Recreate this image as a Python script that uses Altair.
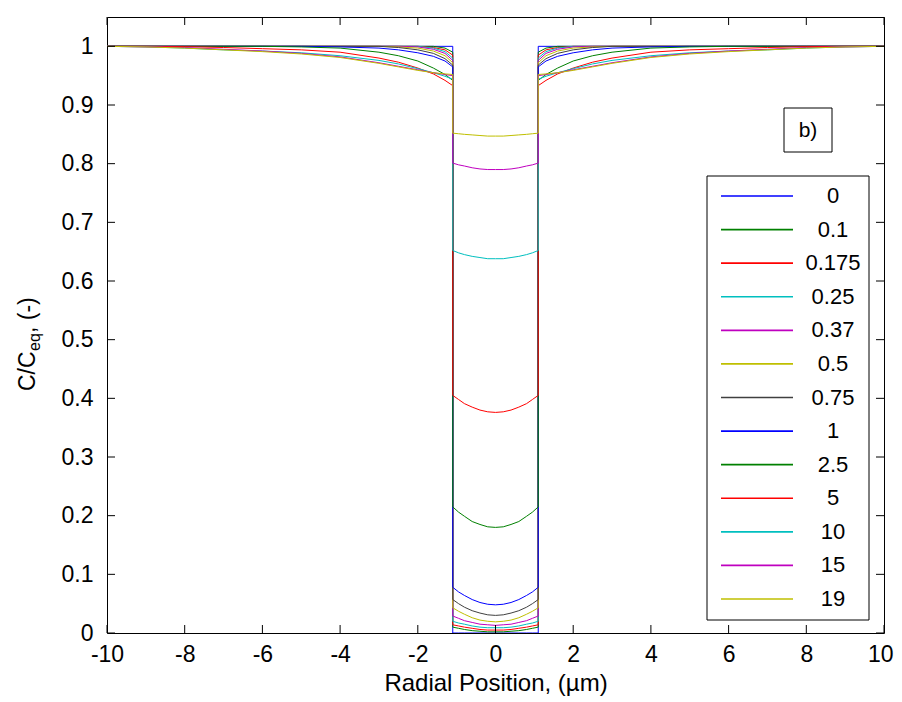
import altair as alt
import pandas as pd

FONT = "Liberation Sans"

# ---- series labels (times) and MATLAB colour cycle ----
labels = ["0", "0.1", "0.175", "0.25", "0.37", "0.5", "0.75", "1", "2.5", "5", "10", "15", "19"]
line_colors = ["#0000FF", "#008000", "#FF0000", "#00BFBF", "#BF00BF", "#BFBF00", "#404040",
               "#0000FF", "#008000", "#FF0000", "#00BFBF", "#BF00BF", "#BFBF00"]

# ---- radial positions (half profile, mirrored about 0) ----
x_inner = [0.0, 0.2, 0.4, 0.6, 0.8, 0.95, 1.1]
x_outer = [1.1, 1.3, 1.6, 2.0, 2.5, 3.0, 4.0, 5.0, 6.0, 7.0, 8.0, 9.0, 10.0]

# ---- C/Ceq inside the particle (at x_inner) ----
in_0 = [0.0, 0.0, 0.0, 0.0, 0.0, 0.0, 0.0]
in_01 = [0.002, 0.002, 0.003, 0.004, 0.006, 0.008, 0.010]
in_0175 = [0.005, 0.005, 0.006, 0.008, 0.010, 0.012, 0.014]
in_025 = [0.009, 0.009, 0.010, 0.012, 0.015, 0.017, 0.020]
in_037 = [0.013, 0.014, 0.015, 0.018, 0.021, 0.025, 0.029]
in_05 = [0.019, 0.020, 0.022, 0.026, 0.032, 0.037, 0.043]
in_075 = [0.030, 0.031, 0.034, 0.038, 0.044, 0.050, 0.057]
in_1 = [0.048, 0.049, 0.052, 0.057, 0.064, 0.070, 0.078]
in_25 = [0.180, 0.181, 0.185, 0.190, 0.199, 0.206, 0.215]
in_5 = [0.376, 0.377, 0.380, 0.385, 0.391, 0.398, 0.405]
in_10 = [0.638, 0.638, 0.640, 0.642, 0.645, 0.648, 0.652]
in_15 = [0.790, 0.790, 0.791, 0.793, 0.796, 0.798, 0.801]
in_19 = [0.847, 0.847, 0.848, 0.849, 0.850, 0.851, 0.852]

# ---- C/Ceq outside the particle (at x_outer) ----
out_0 = [1.0, 1.0, 1.0, 1.0, 1.0, 1.0, 1.0, 1.0, 1.0, 1.0, 1.0, 1.0, 1.0]
out_01 = [0.990, 0.997, 1.0, 1.0, 1.0, 1.0, 1.0, 1.0, 1.0, 1.0, 1.0, 1.0, 1.0]
out_0175 = [0.985, 0.994, 0.998, 1.0, 1.0, 1.0, 1.0, 1.0, 1.0, 1.0, 1.0, 1.0, 1.0]
out_025 = [0.980, 0.991, 0.997, 1.0, 1.0, 1.0, 1.0, 1.0, 1.0, 1.0, 1.0, 1.0, 1.0]
out_037 = [0.976, 0.988, 0.995, 0.999, 1.0, 1.0, 1.0, 1.0, 1.0, 1.0, 1.0, 1.0, 1.0]
out_05 = [0.972, 0.984, 0.992, 0.997, 0.999, 1.0, 1.0, 1.0, 1.0, 1.0, 1.0, 1.0, 1.0]
out_075 = [0.968, 0.979, 0.988, 0.994, 0.998, 1.0, 1.0, 1.0, 1.0, 1.0, 1.0, 1.0, 1.0]
out_1 = [0.965, 0.975, 0.983, 0.989, 0.994, 0.997, 0.999, 1.0, 1.0, 1.0, 1.0, 1.0, 1.0]
out_25 = [0.942, 0.952, 0.963, 0.975, 0.984, 0.990, 0.997, 0.999, 1.0, 1.0, 1.0, 1.0, 1.0]
out_5 = [0.933, 0.942, 0.953, 0.963, 0.973, 0.980, 0.990, 0.994, 0.996, 0.998, 0.9995, 1.0, 1.0]
out_10 = [0.944, 0.949, 0.955, 0.962, 0.970, 0.976, 0.984, 0.989, 0.992, 0.994, 0.997, 0.999, 1.0]
out_15 = [0.950, 0.952, 0.955, 0.960, 0.966, 0.972, 0.982, 0.988, 0.992, 0.995, 0.998, 0.999, 1.0]
out_19 = [0.952, 0.953, 0.955, 0.959, 0.965, 0.971, 0.981, 0.987, 0.991, 0.994, 0.997, 0.999, 1.0]

# ---- axis ticks ----
x_ticks = [-10, -8, -6, -4, -2, 0, 2, 4, 6, 8, 10]
y_ticks = [0, 0.1, 0.2, 0.3, 0.4, 0.5, 0.6, 0.7, 0.8, 0.9, 1]

inner_sets = [in_0, in_01, in_0175, in_025, in_037, in_05, in_075, in_1, in_25, in_5, in_10, in_15, in_19]
outer_sets = [out_0, out_01, out_0175, out_025, out_037, out_05, out_075, out_1, out_25, out_5, out_10, out_15, out_19]

rows = []
for lab, inn, out in zip(labels, inner_sets, outer_sets):
    pts = []
    for xv, yv in zip(reversed(x_outer), reversed(out)):
        pts.append((-xv, yv))
    for xv, yv in zip(reversed(x_inner), reversed(inn)):
        pts.append((-xv, yv))
    for xv, yv in zip(x_inner[1:], inn[1:]):
        pts.append((xv, yv))
    for xv, yv in zip(x_outer, out):
        pts.append((xv, yv))
    for i, (xv, yv) in enumerate(pts):
        rows.append({"t": lab, "x": xv, "c": yv, "i": i})
df = pd.DataFrame(rows)

W, H = 777, 616
xs = alt.Scale(domain=[-10, 10], nice=False, zero=False)
ys = alt.Scale(domain=[0, 1.05], nice=False, zero=False)
cs = alt.Scale(domain=labels, range=line_colors)

x_axis = alt.Axis(
    values=x_ticks, labelExpr="'' + datum.value", labelFlush=False,
    labelAlign={"condition": {"test": "datum.value == 10", "value": "right"}, "value": "center"},
    labelOffset={"condition": {"test": "datum.value == 10", "value": 9}, "value": 0},
    title="Radial Position, (\u00b5m)", labelPadding=10, titlePadding=5)
y_axis = alt.Axis(values=y_ticks, labelExpr="'' + datum.value", title=None, labelPadding=14,
                  labelFlush=False)

# one layer per curve so that the drawing order follows the legend order
line_layers = []
for k, lab in enumerate(labels):
    line_layers.append(
        alt.Chart(df).transform_filter(alt.datum.t == lab).mark_line(strokeWidth=1, clip=True).encode(
            x=alt.X("x:Q", scale=xs, axis=x_axis),
            y=alt.Y("c:Q", scale=ys, axis=y_axis if k == 0 else None),
            color=alt.Color("t:N", scale=cs, legend=None),
            order=alt.Order("i:Q"),
        )
    )

xt = pd.DataFrame({"v": x_ticks})
yt = pd.DataFrame({"v": y_ticks})
tick_b = alt.Chart(xt).mark_rule(color="black", strokeWidth=1).encode(
    x=alt.X("v:Q", scale=xs, axis=x_axis), y=alt.value(H), y2=alt.value(H - 8))
tick_t = alt.Chart(xt).mark_rule(color="black", strokeWidth=1).encode(
    x=alt.X("v:Q", scale=xs, axis=x_axis), y=alt.value(0), y2=alt.value(8))
tick_l = alt.Chart(yt).mark_rule(color="black", strokeWidth=1).encode(
    y=alt.Y("v:Q", scale=ys, axis=None), x=alt.value(0), x2=alt.value(8))
tick_r = alt.Chart(yt).mark_rule(color="black", strokeWidth=1).encode(
    y=alt.Y("v:Q", scale=ys, axis=None), x=alt.value(W), x2=alt.value(W - 8))

one = pd.DataFrame({"a": [0]})

# legend box built from labels
leg_box = alt.Chart(one).mark_rect(fill="white", stroke="black", strokeWidth=1).encode(
    x=alt.value(600), x2=alt.value(762), y=alt.value(159), y2=alt.value(603))
leg_df = pd.DataFrame({"t": labels})
ly = alt.Y("t:N", sort=labels, scale=alt.Scale(type="point", domain=labels, range=[179, 582], padding=0), axis=None)
leg_lines = alt.Chart(leg_df).mark_rule(strokeWidth=1.6).encode(
    y=ly, x=alt.value(614), x2=alt.value(686), color=alt.Color("t:N", scale=cs, legend=None))
leg_text = alt.Chart(leg_df).mark_text(font=FONT, fontSize=22, align="center", baseline="middle",
                                       color="black").encode(
    y=ly, x=alt.value(726), text="t:N")

# b) annotation box
b_box = alt.Chart(one).mark_rect(fill="white", stroke="black", strokeWidth=1).encode(
    x=alt.value(677), x2=alt.value(725), y=alt.value(91), y2=alt.value(135))
b_text = alt.Chart(one).mark_text(font=FONT, fontSize=21, align="center", baseline="middle",
                                  color="black").encode(
    x=alt.value(701), y=alt.value(114), text=alt.value("b)"))

# y-axis title with subscript
yt1 = alt.Chart(one).mark_text(font=FONT, fontSize=23, angle=270, align="left",
                               baseline="alphabetic", color="black").encode(
    x=alt.value(-72), y=alt.value(374), text=alt.value("C/C"))
yt2 = alt.Chart(one).mark_text(font=FONT, fontSize=16, angle=270, align="left",
                               baseline="alphabetic", color="black").encode(
    x=alt.value(-67), y=alt.value(334), text=alt.value("eq"))
yt3 = alt.Chart(one).mark_text(font=FONT, fontSize=23, angle=270, align="left",
                               baseline="alphabetic", color="black").encode(
    x=alt.value(-72), y=alt.value(316), text=alt.value(", (-)"))

chart = alt.layer(
    *line_layers, tick_b, tick_t, tick_l, tick_r,
    leg_box, leg_lines, leg_text, b_box, b_text, yt1, yt2, yt3
).resolve_scale(y="independent").properties(
    width=W, height=H,
    autosize=alt.AutoSizeParams(type="none"),
    padding={"left": 99, "top": 9, "right": 10, "bottom": 69},
).configure(font=FONT, background="white").configure_view(
    stroke="black", strokeWidth=1
).configure_axis(
    labelFont=FONT, titleFont=FONT, labelFontSize=23, titleFontSize=24,
    labelColor="black", titleColor="black", titleFontWeight="normal",
    ticks=False, tickSize=0, domain=False, grid=False,
)

chart.save("out.html", embed_options={"renderer": "svg", "actions": False})
